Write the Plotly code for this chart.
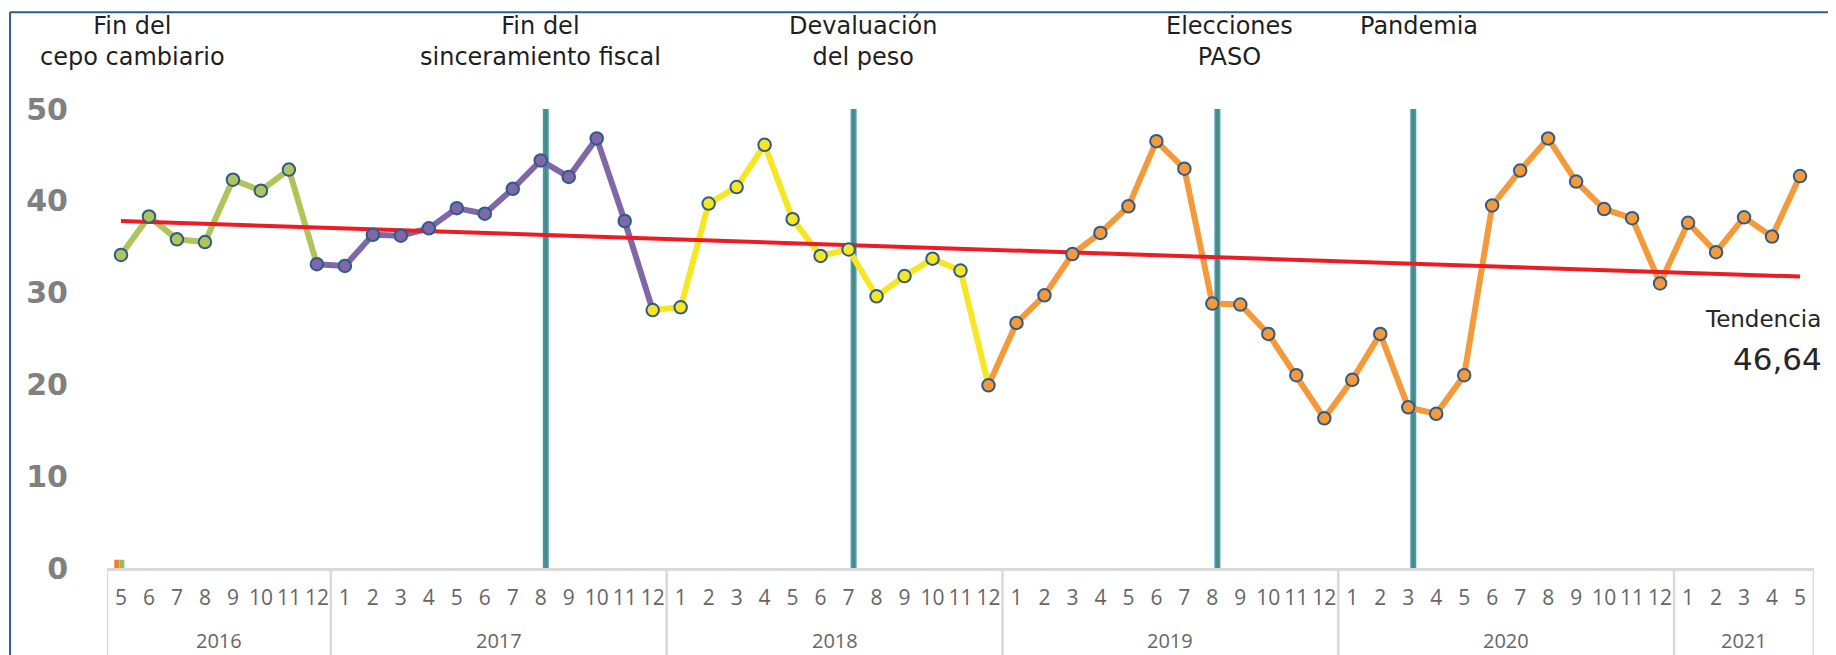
import plotly.graph_objects as go

# ---------------- data ----------------
years = [2016]*8 + [2017]*12 + [2018]*12 + [2019]*12 + [2020]*12 + [2021]*5
months = list(range(5, 13)) + list(range(1, 13))*4 + list(range(1, 6))
values = [34.1, 38.3, 35.8, 35.5, 42.3, 41.1, 43.4, 33.1,
          32.9, 36.3, 36.2, 37.0, 39.2, 38.6, 41.3, 44.4, 42.6, 46.8, 37.8, 28.1,
          28.4, 39.7, 41.5, 46.1, 38.0, 34.0, 34.7, 29.6, 31.8, 33.7, 32.4, 19.9,
          26.7, 29.7, 34.2, 36.5, 39.4, 46.5, 43.5, 28.8, 28.7, 25.5, 21.0, 16.3,
          20.5, 25.5, 17.5, 16.8, 21.0, 39.5, 43.3, 46.8, 42.1, 39.1, 38.1, 31.0,
          37.6, 34.4, 38.2, 36.1, 42.7]
# periods: first month index of each coloured period
period_starts = [(2016, 5), (2016, 12), (2017, 12), (2018, 12)]
period_colors = ["#AFC45B", "#8068A8", "#F6E624", "#F59A3A"]
# vertical event markers
event_dates = [(2017, 8), (2018, 7), (2019, 8), (2020, 3)]
event_labels = ["Fin del<br>cepo cambiario", "Fin del<br>sinceramiento fiscal",
                "Devaluación<br>del peso", "Elecciones<br>PASO", "Pandemia"]
trend_values = [37.8, 31.75]
trend_label = "Tendencia"
trend_value_text = "46,64"
stray_bar_values = [0.9, 0.9]

# ---------------- helpers ----------------
n = len(values)
x = list(range(n))
dates = list(zip(years, months))
def idx(d):
    return dates.index(d)

fig = go.Figure()

starts = [idx(d) for d in period_starts] + [n - 1]
# line segments
for k, col in enumerate(period_colors):
    a = starts[k]
    b = starts[k + 1]
    fig.add_trace(go.Scatter(x=x[a:b + 1], y=values[a:b + 1], mode="lines",
                             line=dict(color=col, width=6), showlegend=False,
                             hoverinfo="skip", cliponaxis=False))
# trend line
fig.add_trace(go.Scatter(x=[0, n - 1], y=trend_values, mode="lines",
                         line=dict(color="#ED1C24", width=4), showlegend=False,
                         cliponaxis=False))
# markers
for k, col in enumerate(period_colors):
    a = starts[k]
    b = starts[k + 1] if k < len(period_colors) - 1 else n
    fig.add_trace(go.Scatter(x=x[a:b], y=values[a:b], mode="markers",
                             marker=dict(color=col, size=12.5,
                                         line=dict(color="#2E5B8A", width=2)),
                             showlegend=False, cliponaxis=False))

shapes = []
# event vertical lines
for d in event_dates:
    xi = idx(d) + 0.18
    shapes.append(dict(type="line", xref="x", yref="y", x0=xi, x1=xi, y0=0, y1=50,
                       line=dict(color="#3A9AD6", width=6), layer="below"))
    shapes.append(dict(type="line", xref="x", yref="y", x0=xi, x1=xi, y0=0, y1=50,
                       line=dict(color="#5F8650", width=2.2), layer="below"))

# year dividers under the axis
year_list = sorted(set(years))
bounds = [years.index(yv) - 0.5 for yv in year_list] + [n - 0.5]
for bx in bounds:
    shapes.append(dict(type="line", xref="x", yref="paper", x0=bx, x1=bx, y0=0, y1=-0.25,
                       line=dict(color="#D9D9D9", width=2.5)))

# figure border (top and left)
shapes.append(dict(type="line", xref="paper", yref="paper", x0=-0.0568, x1=1.03,
                   y0=1.211, y1=1.211, line=dict(color="#2E5B8C", width=2)))
shapes.append(dict(type="line", xref="paper", yref="paper", x0=-0.0568, x1=-0.0568,
                   y0=1.211, y1=-0.3, line=dict(color="#2E5B8C", width=2)))
# small stray bars at the origin
fig.add_trace(go.Bar(x=[-0.15, 0.03], y=stray_bar_values, width=[0.18, 0.18],
                     marker=dict(color=["#F07F2A", "#9BBB59"], line=dict(width=0)),
                     showlegend=False, hoverinfo="skip"))

annotations = []
# year labels
for yv in year_list:
    first = years.index(yv)
    last = n - 1 - years[::-1].index(yv)
    annotations.append(dict(x=(first + last) / 2, y=-0.157, xref="x", yref="paper",
                            text=str(yv), showarrow=False, yanchor="middle",
                            font=dict(family="Open Sans", size=20, color="#666666")))
# event labels
label_x = [0.4, 15.0, 26.55, 39.6, 46.4]
for lx, txt in zip(label_x, event_labels):
    two = "<br>" in txt
    annotations.append(dict(x=lx, y=1.148 if two else 1.181, xref="x", yref="paper",
                            text=txt, showarrow=False, yanchor="middle",
                            font=dict(family="DejaVu Sans", size=24, color="#1F1F1F")))
annotations.append(dict(x=1.0053, y=0.5425, xref="paper", yref="paper", xanchor="right",
                        yanchor="middle", text=trend_label, showarrow=False,
                        font=dict(family="DejaVu Sans", size=23, color="#262626")))
annotations.append(dict(x=1.0060, y=0.4553, xref="paper", yref="paper", xanchor="right",
                        yanchor="middle", text=trend_value_text, showarrow=False,
                        font=dict(family="DejaVu Sans", size=31, color="#262626")))

fig.update_layout(
    width=1828, height=647,
    margin=dict(l=99, r=22, t=101, b=87),
    paper_bgcolor="white", plot_bgcolor="white",
    showlegend=False, barmode="overlay",
    shapes=shapes, annotations=annotations,
    xaxis=dict(range=[-0.5, n - 0.5], tickmode="array", tickvals=x,
               ticktext=[str(m) for m in months], showgrid=False, zeroline=False,
               showline=True, linecolor="#D9D9D9", linewidth=3, ticks="",
               ticklabelstandoff=9,
               tickfont=dict(family="Open Sans", size=21, color="#666666")),
    yaxis=dict(range=[0, 50], tickvals=[0, 10, 20, 30, 40, 50], showgrid=False,
               zeroline=False, showline=False, ticks="", ticklabelstandoff=38,
               tickfont=dict(family="DejaVu Sans", size=30, color="#808080", weight="bold")),
)

fig.write_html("out.html")
